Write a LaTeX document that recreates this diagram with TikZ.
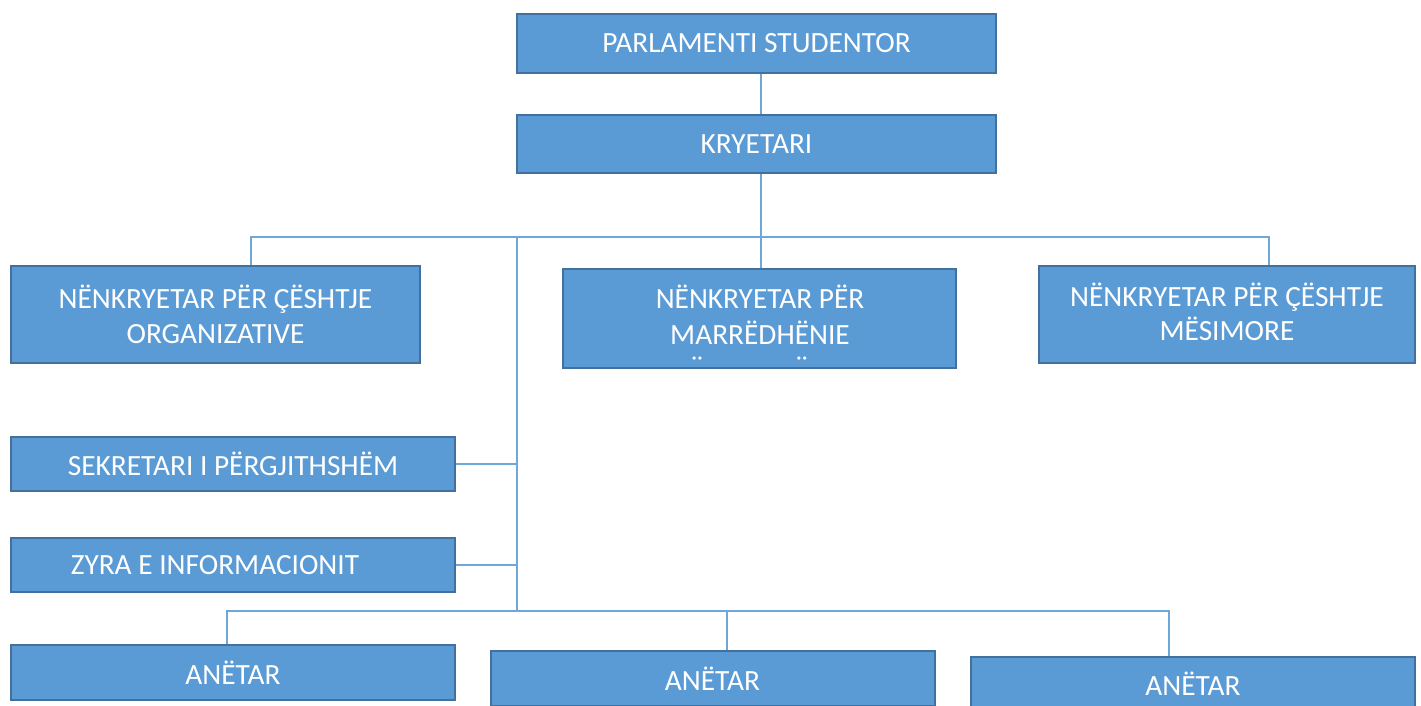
\documentclass[tikz,border=0pt]{standalone}
\usepackage{fontspec}
\setmainfont{Carlito}
\usepackage{tikz}
\usetikzlibrary{positioning,calc}

\definecolor{boxfill}{HTML}{5B9BD5}
\definecolor{boxline}{HTML}{41719C}
\definecolor{linkcol}{HTML}{6FA7DB}

\tikzset{
    box/.style={draw=boxline, fill=boxfill, line width=1.5pt, text=white,
        align=center, inner sep=0pt, font=\fontsize{22}{25.8}\selectfont},
    boxtxt/.style={text=white, align=center, inner sep=0pt,
        font=\fontsize{22}{27}\selectfont},
    link/.style={draw=linkcol, line width=1.1pt},
}

\begin{document}
\begin{tikzpicture}[x=0.75pt, y=-0.75pt]
\useasboundingbox (0,0) rectangle (1421,706);

% top of the tree
\node[box, minimum width=359.25pt, minimum height=44.25pt] (parl) at (756.5,43.5) {PARLAMENTI STUDENTOR};
\node[box, minimum width=359.25pt, minimum height=43.5pt] (kry) at (756.5,144) {KRYETARI};

% vice chairs
\node[box, minimum width=306.75pt, minimum height=72.75pt] (vorg) at (215.5,314.5) {NËNKRYETAR PËR ÇËSHTJE\\ORGANIZATIVE};
\node[box, minimum width=294.75pt, minimum height=74.25pt] (vmar) at (759.5,318.5) {};
\node[box, minimum width=282pt, minimum height=72.75pt] (vmes) at (1227,314.5) {};
\node[boxtxt, font=\fontsize{22}{25.8}\selectfont] (vmestxt) at (1227,312) {NËNKRYETAR PËR ÇËSHTJE\\MËSIMORE};
\begin{scope}
\clip (563,269) rectangle (956,360);
\node[boxtxt] (vmartxt) at (760,333) {NËNKRYETAR PËR\\MARRËDHËNIE\\NDËRKOMBËTARE};
\end{scope}

% offices
\node[box, minimum width=333pt, minimum height=40.5pt] (sek) at (233,464) {SEKRETARI I PËRGJITHSHËM};
\node[box, minimum width=333pt, minimum height=40.5pt] (zyra) at (233,565) {ZYRA E INFORMACIONIT\hspace{27pt}};

% members
\node[box, minimum width=333pt, minimum height=41.25pt] (anetar1) at (233,672.5) {ANËTAR};
\node[box, minimum width=333pt, minimum height=41.25pt] (anetar2) at (712.5,678.5) {ANËTAR};
\node[box, minimum width=333pt, minimum height=41.25pt] (anetar3) at (1193,684) {ANËTAR};

\coordinate (busL) at (251,237);
\coordinate (busM) at (761,237);
\coordinate (busR) at (1269,237);
\coordinate (trunk) at (517,237);
\coordinate (trunkend) at (517,611);
\coordinate (lowL) at (227,611);
\coordinate (lowM) at (727,611);
\coordinate (lowR) at (1169,611);

\draw[link] (parl.south -| busM) -- (kry.north -| busM);
\draw[link] (kry.south -| busM) -- (busM) -- (vmar.north -| busM);
\draw[link] (vorg.north -| busL) -- (busL) -- (busR) -- (vmes.north -| busR);
\draw[link] (trunk) -- (trunkend);
\draw[link] (sek.east) -- (sek.east -| trunk);
\draw[link] (zyra.east) -- (zyra.east -| trunk);
\draw[link] (anetar1.north -| lowL) -- (lowL) -- (lowR) -- (anetar3.north -| lowR);
\draw[link] (lowM) -- (anetar2.north -| lowM);
\end{tikzpicture}
\end{document}
